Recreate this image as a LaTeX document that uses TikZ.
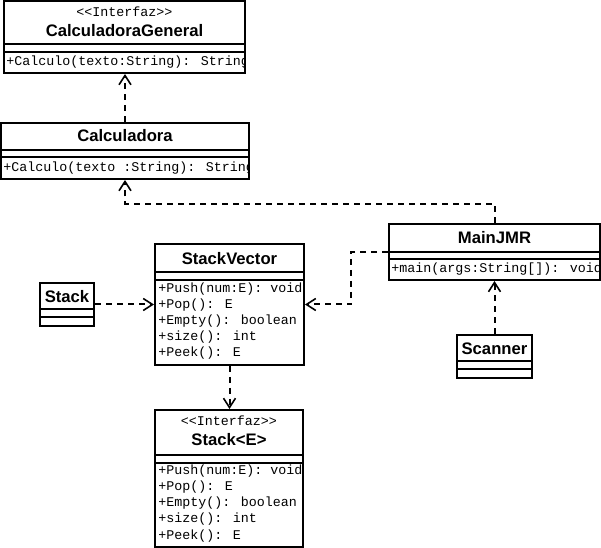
\documentclass[tikz,border=0pt]{standalone}
\usepackage{fontspec}
\setmainfont{Liberation Sans}
\newfontfamily\monof{Liberation Mono}
\usetikzlibrary{arrows.meta,fit}
\begin{document}
\begin{tikzpicture}[x=0.75pt,y=-0.75pt,
  box/.style={draw, line width=1.5pt, inner sep=0pt},
  sepline/.style={line width=1.5pt},
  nm/.style={font=\bfseries\fontsize{12.5}{14}\selectfont, inner sep=0pt},
  mt/.style={font=\monof\fontsize{10}{12}\selectfont, anchor=west, inner sep=0pt},
  st/.style={font=\monof\fontsize{10}{12}\selectfont, inner sep=0pt},
  dep/.style={line width=1.5pt, dash pattern=on 4.5pt off 3.75pt,
    -{Straight Barb[length=7pt,width=9pt,line width=1.2pt]}}]
\useasboundingbox (0,0) rectangle (601,548);

% CalculadoraGeneral
\node[box, fit={(4,1)(245,73)}] (cg) {};
\draw[sepline] (4,44) -- (245,44) (4,52) -- (245,52);
\node[st] (cgst) at (124.5,12) {<<Interfaz>>};
\node[nm] (cgnm) at (124.5,31) {CalculadoraGeneral};
\begin{scope}
\clip (4,1) rectangle (245,73);
\node[mt] (cgm) at (6,62.5) {+Calculo(texto:String): String};
\end{scope}

% Calculadora
\node[box, fit={(1,123)(249,179)}] (calc) {};
\draw[sepline] (1,150) -- (249,150) (1,157) -- (249,157);
\node[nm] (calcnm) at (125,136) {Calculadora};
\begin{scope}
\clip (1,123) rectangle (249,179);
\node[mt] (calcm) at (3,168) {+Calculo(texto :String): String};
\end{scope}

% StackVector
\node[box, fit={(155,244)(304,365)}] (sv) {};
\draw[sepline] (155,272) -- (304,272) (155,280) -- (304,280);
\node[nm] (svnm) at (229.5,259) {StackVector};
\begin{scope}
\clip (155,244) rectangle (304,365);
\node[mt] (sv1) at (158,289.5) {+Push(num:E): void};
\node[mt] (sv2) at (158,305.5) {+Pop(): E};
\node[mt] (sv3) at (158,321.5) {+Empty(): boolean};
\node[mt] (sv4) at (158,337.5) {+size(): int};
\node[mt] (sv5) at (158,353.5) {+Peek(): E};
\end{scope}

% Stack<E>
\node[box, fit={(155,410)(303,547)}] (se) {};
\draw[sepline] (155,455) -- (303,455) (155,463) -- (303,463);
\node[st] (sest) at (229,421) {<<Interfaz>>};
\node[nm] (senm) at (229,440) {Stack<E>};
\begin{scope}
\clip (155,410) rectangle (303,547);
\node[mt] (se1) at (158,471.5) {+Push(num:E): void};
\node[mt] (se2) at (158,487.5) {+Pop(): E};
\node[mt] (se3) at (158,503.5) {+Empty(): boolean};
\node[mt] (se4) at (158,519.5) {+size(): int};
\node[mt] (se5) at (158,536) {+Peek(): E};
\end{scope}

% Stack
\node[box, fit={(40,283)(94,326)}] (stack) {};
\draw[sepline] (40,309) -- (94,309) (40,317) -- (94,317);
\node[nm] (stacknm) at (67,297) {Stack};

% MainJMR
\node[box, fit={(389,224)(600,280)}] (main) {};
\draw[sepline] (389,252) -- (600,252) (389,259) -- (600,259);
\node[nm] (mainnm) at (494.5,238) {MainJMR};
\begin{scope}
\clip (389,224) rectangle (600,280);
\node[mt] (mainm) at (391,269.5) {+main(args:String[]): void};
\end{scope}

% Scanner
\node[box, fit={(457,335)(532,378)}] (sc) {};
\draw[sepline] (457,361) -- (532,361) (457,369) -- (532,369);
\node[nm] (scnm) at (494.5,349) {Scanner};

% connectors
\draw[dep] (calc.north) -- (calc.north |- cg.south);
\draw[dep] (main.north) -- ++(0,-19) -| (calc.south);
\draw[dep] (main.west) -- (351,252) |- (sv.east);
\draw[dep] (stack.east) -- (sv.west);
\draw[dep] (sv.south) -- (sv.south |- se.north);
\draw[dep] (sc.north) -- (sc.north |- main.south);
\end{tikzpicture}
\end{document}
